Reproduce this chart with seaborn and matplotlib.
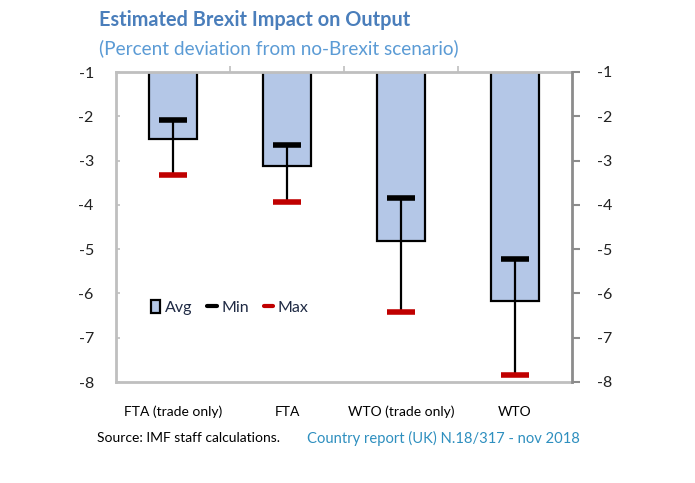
#!/usr/bin/env python3
"""
Estimated Brexit impact on output - bar + min/max range chart
"""

import numpy as np
import pandas as pd
import matplotlib
matplotlib.use("Agg")
import matplotlib.pyplot as plt
from matplotlib.patches import Patch
from matplotlib.lines import Line2D
import seaborn as sns

# === Data ===
categories = ["FTA (trade only)", "FTA", "WTO (trade only)", "WTO"]
avg_values = [-2.52, -3.12, -4.81, -6.18]
min_values = [-2.08, -2.64, -3.85, -5.22]
max_values = [-3.32, -3.93, -6.42, -7.84]
y_ticks = [-8, -7, -6, -5, -4, -3, -2, -1]

BAR_COLOR = "#b4c7e7"
RED = "#c00000"
TITLE_BLUE = "#4a7ebb"
SUB_BLUE = "#5b9bd5"
TEAL = "#2e8fbf"
LIGHT_GRAY = "#bfbfbf"
DARK_GRAY = "#8c8c8c"

sns.set_style("white")
plt.rcParams['font.family'] = ['Lato', 'DejaVu Sans']

df = pd.DataFrame({"scenario": categories, "avg": avg_values})

fig = plt.figure(figsize=(6.95, 4.83), dpi=100)
ax = fig.add_axes([116 / 695, 101 / 483, 456 / 695, 310 / 483])

sns.barplot(data=df, x="scenario", y="avg", color=BAR_COLOR, edgecolor="black",
            linewidth=1.6, width=0.42, errorbar=None, saturation=1, ax=ax)

# min/max ranges
xpos = np.arange(len(categories))
ax.vlines(xpos, min_values, max_values, color="black", linewidth=1.6, zorder=4)
ax.hlines(min_values, xpos - 0.12, xpos + 0.12, color="black", linewidth=4, zorder=5)
ax.hlines(max_values, xpos - 0.12, xpos + 0.12, color=RED, linewidth=4, zorder=5)

ax.set_ylim(-8, -1)
ax.set_xlim(-0.5, len(categories) - 0.5)
ax.set_yticks(y_ticks)
ax.set_yticklabels([str(t) for t in y_ticks])
ax.set_xlabel("")
ax.set_ylabel("")

# category boundary ticks on the top axis
ax.set_xticks(xpos[:-1] + 0.5, minor=True)
ax.tick_params(axis="x", which="minor", top=True, bottom=False, direction="out",
               length=4, width=1.2, color=LIGHT_GRAY)
ax.tick_params(axis="x", which="major", length=0, pad=17, labelsize=10, labelcolor="black")
ax.tick_params(axis="y", direction="in", length=3, width=1.2, color=LIGHT_GRAY,
               pad=16, labelsize=11.5, labelcolor="#222222")

for name, sp in ax.spines.items():
    sp.set_visible(True)
    sp.set_color(LIGHT_GRAY)
    sp.set_linewidth(2)
ax.spines["right"].set_visible(False)

# right-hand axis
ax2 = ax.twinx()
ax2.set_ylim(-8, -1)
ax2.set_yticks(y_ticks)
ax2.set_yticklabels([str(t) for t in y_ticks])
ax2.tick_params(axis="y", direction="out", length=6, width=1.5, color=DARK_GRAY,
                pad=12, labelsize=11.5, labelcolor="#222222")
for name, sp in ax2.spines.items():
    sp.set_visible(False)
ax2.spines["right"].set_visible(True)
ax2.spines["right"].set_color(DARK_GRAY)
ax2.spines["right"].set_linewidth(2)

# legend
handles = [
    Patch(facecolor=BAR_COLOR, edgecolor="black", linewidth=1.6, label="Avg"),
    Line2D([0], [0], color="black", linewidth=3, label="Min"),
    Line2D([0], [0], color=RED, linewidth=3, label="Max"),
]
leg = ax.legend(handles=handles, loc="center left", bbox_to_anchor=(0.045, 0.24),
                ncol=3, frameon=False, fontsize=11.5, handlelength=0.6, handleheight=0.9,
                handletextpad=0.3, columnspacing=0.9)
for t in leg.get_texts():
    t.set_color("#1f2a44")

# titles and footer
fig.text(99 / 695, 1 - 20 / 483, "Estimated Brexit Impact on Output", fontsize=14.3,
         fontweight="bold", color=TITLE_BLUE, ha="left", va="center")
fig.text(99 / 695, 1 - 48 / 483, "(Percent deviation from no-Brexit scenario)",
         fontsize=13.7, color=SUB_BLUE, ha="left", va="center")
fig.text(97 / 695, 1 - 438 / 483, "Source: IMF staff calculations.", fontsize=10,
         color="black", ha="left", va="center")
fig.text(307 / 695, 1 - 438 / 483, "Country report (UK) N.18/317 - nov 2018", fontsize=10.6,
         color=TEAL, ha="left", va="center")

fig.savefig("out.png", dpi=100)
plt.close(fig)
